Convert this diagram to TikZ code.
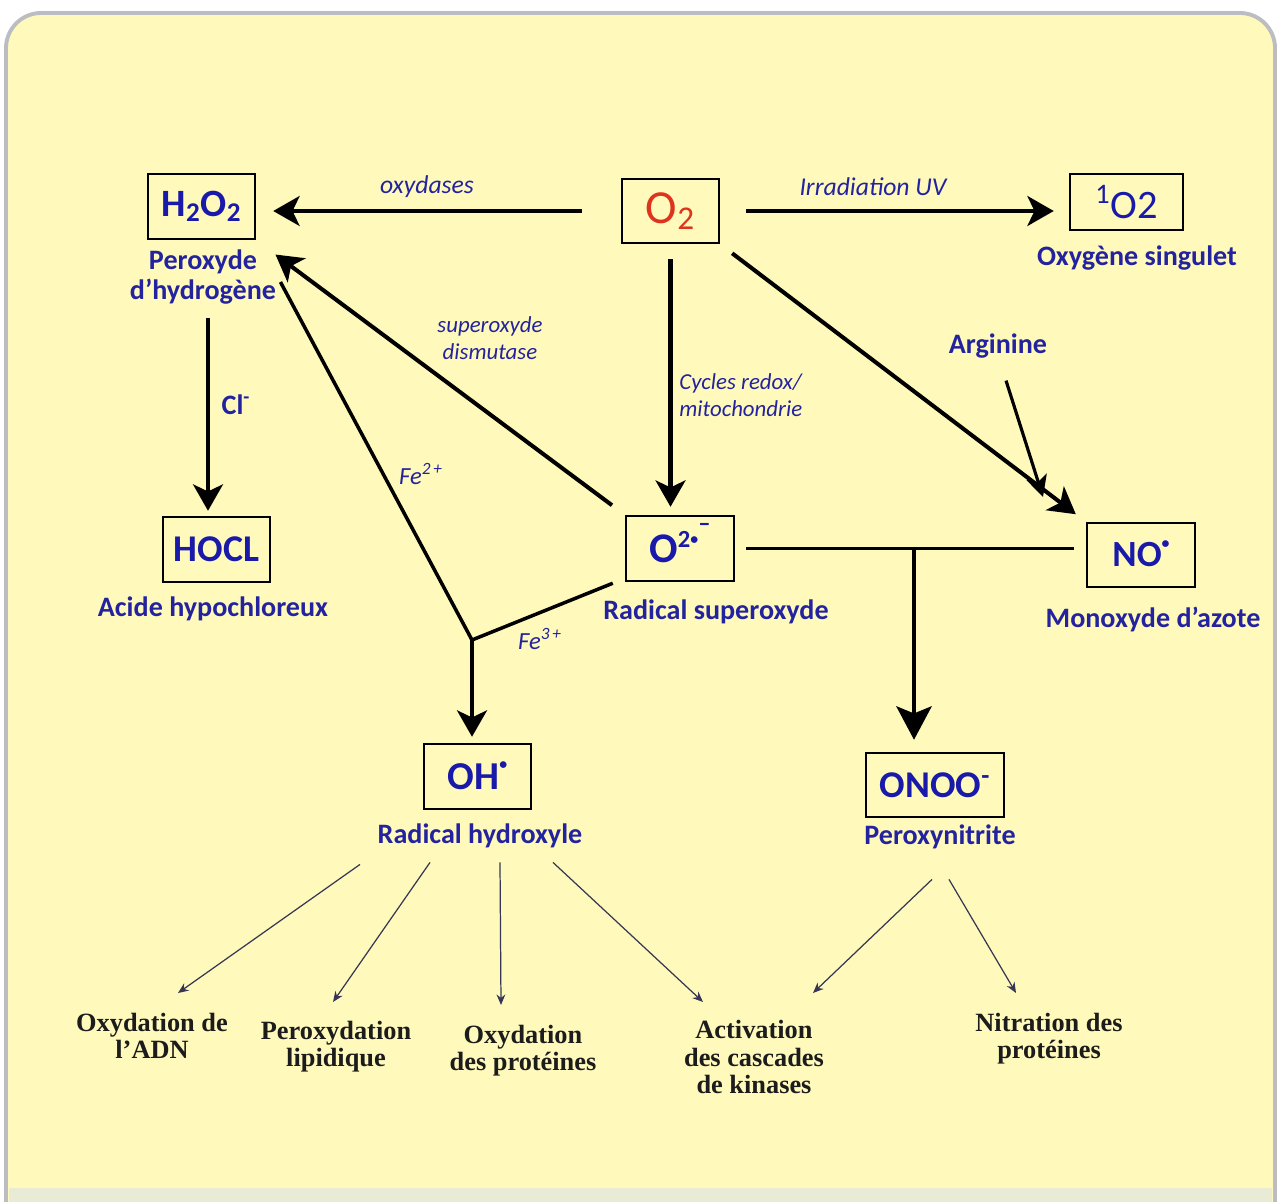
\documentclass[tikz,border=0pt]{standalone}
\usepackage{fontspec}
\setmainfont{Carlito}
\newfontfamily\timesf{Liberation Serif}
\usetikzlibrary{arrows.meta,calc}
\definecolor{bgyellow}{RGB}{255,250,187}
\definecolor{lblue}{RGB}{35,35,160}
\definecolor{bblue}{RGB}{25,25,170}
\definecolor{ored}{RGB}{222,52,30}
\definecolor{thinc}{RGB}{55,55,85}
\definecolor{framec}{RGB}{188,188,195}
\definecolor{bandc}{RGB}{233,235,214}
\definecolor{botc}{RGB}{28,28,28}
\begin{document}
\begin{tikzpicture}[x=0.02cm,y=-0.02cm,
  box/.style={draw=black, line width=1.4pt, inner sep=0pt, text=bblue},
  lab/.style={text=lblue, font=\bfseries\fontsize{16}{17.6}\selectfont, inner sep=0pt, align=center},
  ital/.style={text=lblue, font=\itshape\fontsize{13}{15.5}\selectfont, inner sep=0pt, align=center},
  bot/.style={text=botc, font=\timesf\bfseries\fontsize{15}{15.4}\selectfont, inner sep=0pt, align=center},
  big/.style={draw=black, line width=2.3pt, -{Stealth[length=15pt,width=17pt,inset=4pt]}},
  bigger/.style={draw=black, line width=2.6pt, -{Stealth[length=19pt,width=20pt,inset=4pt]}},
  mid/.style={draw=black, line width=2pt, line join=miter},
  thinarr/.style={draw=thinc, line width=0.7pt, -{Stealth[length=6pt,width=5pt]}}
]
\useasboundingbox (0,0) rectangle (1280,1202);
\fill[white] (0,0) rectangle (1280,1202);
\draw[draw=framec, line width=2.2pt, fill=bgyellow, rounded corners=20] (6,1202) -- (6,13) -- (1275,13) -- (1275,1202);
\fill[bandc] (9,1188) rectangle (1272,1202);

% boxes
\node[box, minimum width=2.14cm, minimum height=1.30cm, font=\bfseries\fontsize{22}{24}\selectfont] (h2o2) at (201.5,206.5) {H\textsubscript{2}O\textsubscript{2}};
\node[box, minimum width=1.94cm, minimum height=1.28cm, text=ored, font=\fontsize{27}{29}\selectfont] (o2) at (670.5,211) {O\textsubscript{2}};
\node[box, minimum width=2.26cm, minimum height=1.12cm, font=\fontsize{23}{25}\selectfont] (singlet) at (1126.5,202) {\textsuperscript{1}O2};
\node[box, minimum width=2.16cm, minimum height=1.30cm, font=\bfseries\fontsize{24}{26}\selectfont] (sup) at (680,548.5) {O\smash{\raisebox{8.5pt}{\fontsize{14}{14}\selectfont 2\raisebox{1.5pt}{\fontsize{9}{9}\selectfont\textbullet}\raisebox{9pt}{–}}}};
\node[box, minimum width=2.16cm, minimum height=1.28cm, font=\bfseries\fontsize{21}{23}\selectfont] (no) at (1141,555) {NO\smash{\raisebox{10.5pt}{\fontsize{9}{9}\selectfont\textbullet}}};
\node[box, minimum width=2.14cm, minimum height=1.30cm, font=\bfseries\fontsize{21.5}{23}\selectfont] (hocl) at (216.5,549.5) {HOCL};
\node[box, minimum width=2.14cm, minimum height=1.30cm, font=\bfseries\fontsize{22.5}{24}\selectfont] (oh) at (477.5,776.5) {OH\smash{\raisebox{11.5pt}{\fontsize{9}{9}\selectfont\textbullet}}};
\node[box, minimum width=2.76cm, minimum height=1.28cm, font=\bfseries\fontsize{21.5}{23}\selectfont] (onoo) at (935,785) {ONOO\textsuperscript{-}};

% names under boxes
\node[lab] (hlab) at (203,277) {Peroxyde\\d’hydrogène};
\node[lab] (slab) at (1137,258) {Oxygène singulet};
\node[lab] (suplab) at (716,612) {Radical superoxyde};
\node[lab] (nolab) at (1153,619) {Monoxyde d’azote};
\node[lab] (hocllab) at (213,609) {Acide hypochloreux};
\node[lab] (ohlab) at (480,836) {Radical hydroxyle};
\node[lab] (onlab) at (940,837) {Peroxynitrite};
\node[lab] (arg) at (998,346) {Arginine};
\node[lab, font=\bfseries\fontsize{16}{18}\selectfont] (cl) at (236,405) {Cl\textsuperscript{-}};

% italic labels
\node[ital, font=\itshape\fontsize{14.6}{16}\selectfont] (oxyd) at (427,187) {oxydases};
\node[ital, font=\itshape\fontsize{14.6}{16}\selectfont] (uv) at (873,187) {Irradiation UV};
\node[ital] (sod) at (490,338) {superoxyde\\dismutase};
\node[ital, align=left, anchor=west] (redox) at (679,395) {Cycles redox/\\mitochondrie};
\node[ital, font=\itshape\fontsize{14}{16}\selectfont] (fe2) at (421,474) {Fe\textsuperscript{2\,+}};
\node[ital, font=\itshape\fontsize{14}{16}\selectfont] (fe3) at (540,639) {Fe\textsuperscript{3\,+}};

% bottom effects
\node[bot] (b1) at (152,1036) {Oxydation de\\l’ADN};
\node[bot] (b2) at (336,1047) {Peroxydation\\lipidique};
\node[bot] (b3) at (523,1051) {Oxydation\\des protéines};
\node[bot] (b4) at (754,1057) {Activation\\des cascades\\de kinases};
\node[bot] (b5) at (1049,1039) {Nitration des\\protéines};

% main connectors
\draw[big, shorten <=0.78cm, shorten >=0.34cm] (o2.west) -- (o2.west -| h2o2.east);
\draw[big, shorten <=0.52cm, shorten >=0.30cm] (o2.east) -- (o2.east -| singlet.west);
\draw[big, shorten <=0.30cm, shorten >=0.16cm] (o2.south) -- (o2.south |- sup.north);
\draw[big, shorten <=0.30cm, shorten >=0.25cm] (o2.south east) -- (no.north west);
\coordinate (argt) at (1043,497);
\draw[draw=black, line width=1.8pt, -{Stealth[length=12pt,width=12pt,inset=3pt]}] ([shift={(8,22)}]arg.south) -- (argt);
\draw[big, shorten <=0.32cm, shorten >=0.48cm] (sup.north west) -- (h2o2.south east);
\draw[big] ([shift={(5,13)}]hlab.south) -- ([shift={(-8.5,-5)}]hocl.north);

% Fenton reaction
\coordinate (J) at (472,640);
\draw[mid] ([shift={(4,5)}]hlab.east) -- (J) -- ([shift={(-12,1)}]sup.south west);
\draw[big, shorten >=0.12cm] (J) -- (J |- oh.north);

% peroxynitrite formation
\draw[mid, shorten <=0.22cm, shorten >=0.24cm] (sup.east) -- (sup.east -| no.west);
\coordinate (K) at (914,548.5);
\draw[bigger, shorten >=0.24cm] (K) -- (K |- onoo.north);

% consequences
\coordinate (t1) at (178,993);
\coordinate (t2) at (333,1002);
\coordinate (t3) at (501,1005);
\coordinate (t4) at (703,1002);
\coordinate (t5) at (813,993);
\coordinate (t6) at (1016,993);
\draw[thinarr] ([shift={(-120,16)}]ohlab.south) -- (t1);
\draw[thinarr] ([shift={(-50,14)}]ohlab.south) -- (t2);
\draw[thinarr] ([shift={(20,14)}]ohlab.south) -- (t3);
\draw[thinarr] ([shift={(73,14)}]ohlab.south) -- (t4);
\draw[thinarr] ([shift={(-8,30)}]onlab.south) -- (t5);
\draw[thinarr] ([shift={(9,30)}]onlab.south) -- (t6);
\end{tikzpicture}
\end{document}
